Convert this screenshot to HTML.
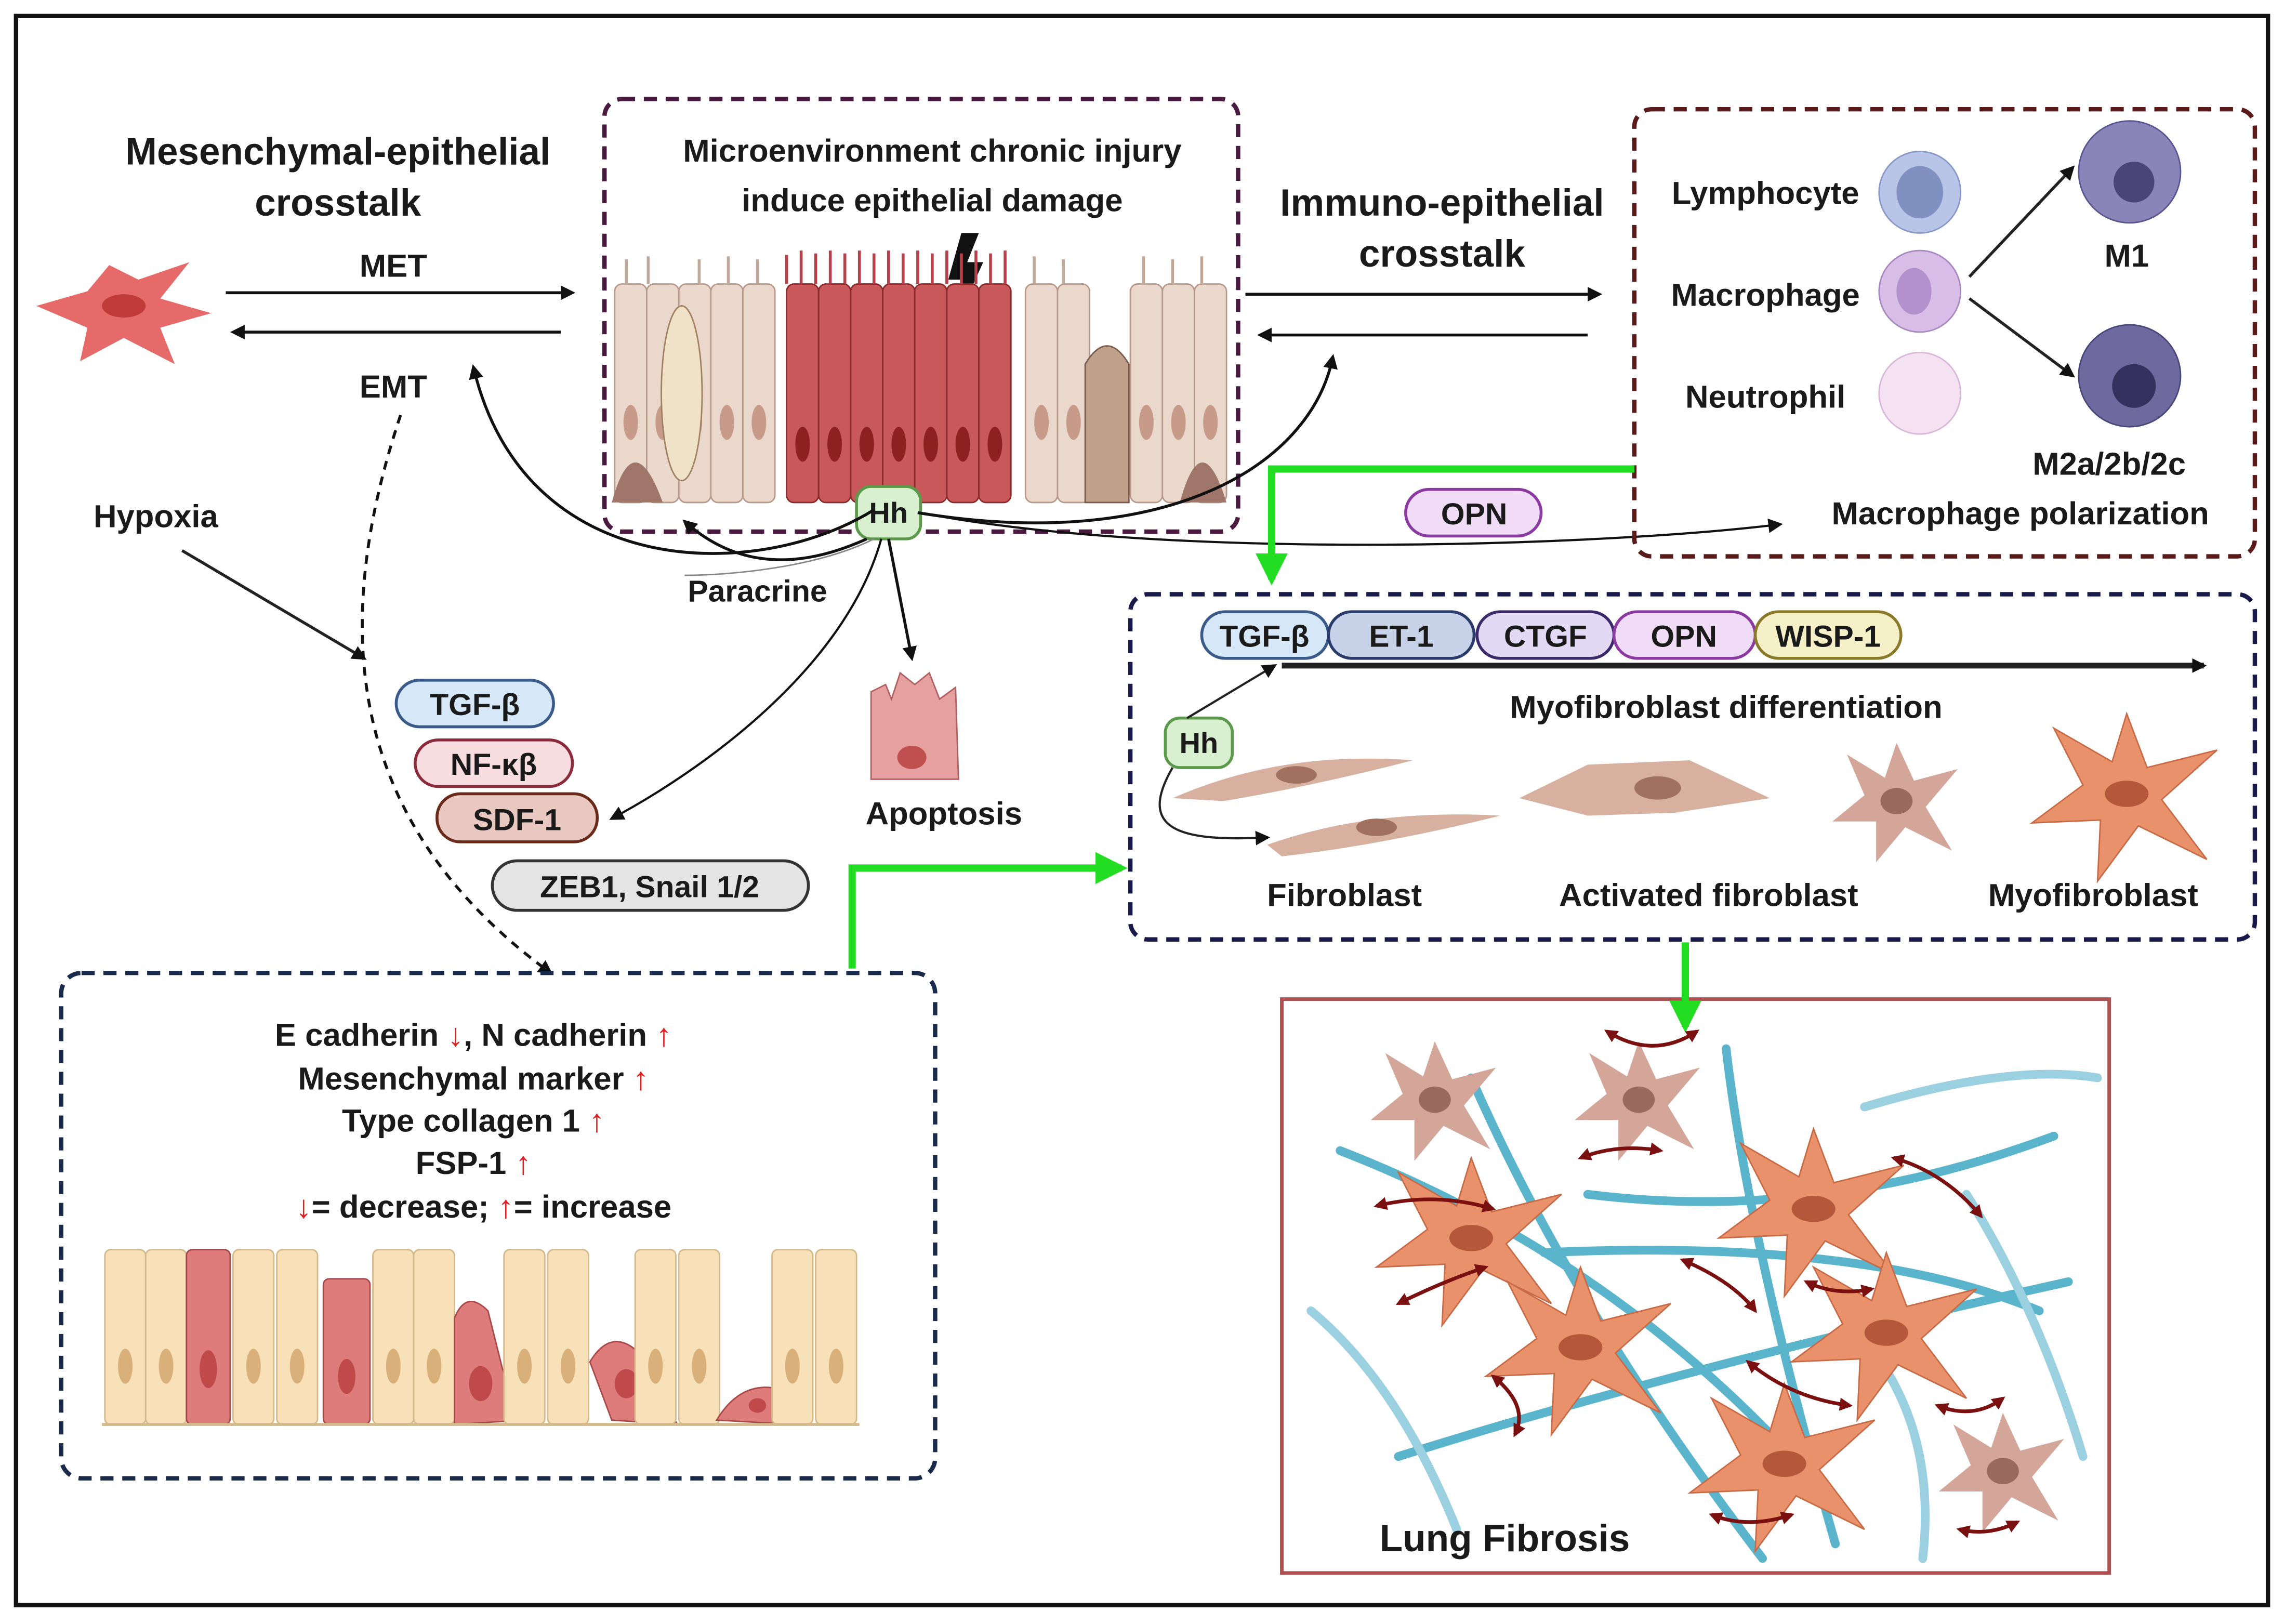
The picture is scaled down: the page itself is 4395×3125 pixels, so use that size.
<!DOCTYPE html>
<html><head><meta charset="utf-8"><style>
html,body{margin:0;padding:0;background:#fff}
svg{display:block}
text{font-family:"Liberation Sans",sans-serif;font-weight:bold;fill:#1a1a1a}
</style></head><body>
<svg width="4395" height="3125" viewBox="0 0 1568 1115" preserveAspectRatio="none" xmlns="http://www.w3.org/2000/svg">
<defs>
<marker id="ab" markerWidth="10" markerHeight="10" refX="8" refY="5" orient="auto" markerUnits="userSpaceOnUse"><path d="M0,0 L10,5 L0,10 z" fill="#111"/></marker>
<marker id="ag" markerWidth="22" markerHeight="22" refX="18" refY="11" orient="auto" markerUnits="userSpaceOnUse"><path d="M0,0 L22,11 L0,22 z" fill="#22dd22"/></marker>
<marker id="ar" markerWidth="9" markerHeight="9" refX="7" refY="4.5" orient="auto-start-reverse" markerUnits="userSpaceOnUse"><path d="M0,0 L9,4.5 L0,9 z" fill="#7a1010"/></marker>
<g id="star"><path d="M0,-55 L14,-18 L62,-30 L24,4 L55,45 L8,22 L-20,60 L-18,18 L-65,20 L-30,-6 L-50,-45 L-10,-22 z" fill="#e8916a" stroke="#c86a45" stroke-width="1"/><ellipse cx="0" cy="0" rx="15" ry="9" fill="#b4573a"/></g>
<g id="bstar"><path d="M0,-40 L12,-14 L42,-22 L20,4 L38,34 L6,18 L-14,42 L-14,14 L-44,14 L-22,-4 L-34,-32 L-8,-16 z" fill="#d4a69a"/><ellipse cx="0" cy="0" rx="11" ry="9" fill="#9a6a5e"/></g>
<g id="col"><rect x="0" y="0" width="28" height="120" rx="4" fill="#f8e0b8" stroke="#d4b98a"/><ellipse cx="14" cy="80" rx="5" ry="12" fill="#d9b07a"/></g>
<g id="epi"><rect x="0" y="0" width="22" height="150" rx="5" fill="#ead8cc" stroke="#b8998a"/><ellipse cx="11" cy="95" rx="5" ry="12" fill="#c79a8a"/></g>
<g id="epr"><rect x="0" y="0" width="22" height="150" rx="5" fill="#c9585a" stroke="#8a2a2a"/><ellipse cx="11" cy="110" rx="5" ry="12" fill="#8e2020"/></g>
</defs>
<rect x="11" y="11" width="1546" height="1091" fill="#fff" stroke="#111" stroke-width="3"/>

<text x="232" y="113" font-size="26" text-anchor="middle">Mesenchymal-epithelial</text>
<text x="232" y="148" font-size="26" text-anchor="middle">crosstalk</text>
<path d="M25,210 L60,200 L75,182 L95,192 L130,180 L110,205 L145,215 L110,225 L120,250 L85,232 L55,248 L60,225 z" fill="#e66a6a"/>
<ellipse cx="85" cy="210" rx="15" ry="8" fill="#c03a3a"/>
<line x1="155" y1="201" x2="393" y2="201" stroke="#111" stroke-width="2" marker-end="url(#ab)"/>
<line x1="385" y1="228" x2="160" y2="228" stroke="#111" stroke-width="2" marker-end="url(#ab)"/>
<text x="270" y="190" font-size="22" text-anchor="middle">MET</text>
<text x="270" y="273" font-size="22" text-anchor="middle">EMT</text>
<text x="107" y="362" font-size="22" text-anchor="middle">Hypoxia</text>
<line x1="125" y1="378" x2="250" y2="452" stroke="#222" stroke-width="2" marker-end="url(#ab)"/>
<path d="M275,285 C230,420 230,560 378,668" fill="none" stroke="#111" stroke-width="2" stroke-dasharray="6,5" marker-end="url(#ab)"/>

<rect x="415" y="68" width="435" height="297" rx="12" fill="none" stroke="#4a1a40" stroke-width="3" stroke-dasharray="9,6"/>
<text x="640" y="111" font-size="22" text-anchor="middle">Microenvironment chronic injury</text>
<text x="640" y="145" font-size="22" text-anchor="middle">induce epithelial damage</text>
<path d="M660,160 L672,160 L664,180 L675,180 L656,222 L661,192 L651,192 z" fill="#111"/>
<g>
<use href="#epi" x="422" y="195"/><use href="#epi" x="444" y="195"/><use href="#epi" x="466" y="195"/><use href="#epi" x="488" y="195"/><use href="#epi" x="510" y="195"/>
<use href="#epr" x="540" y="195"/><use href="#epr" x="562" y="195"/><use href="#epr" x="584" y="195"/><use href="#epr" x="606" y="195"/><use href="#epr" x="628" y="195"/><use href="#epr" x="650" y="195"/><use href="#epr" x="672" y="195"/>
<use href="#epi" x="704" y="195"/><use href="#epi" x="726" y="195"/><use href="#epi" x="776" y="195"/><use href="#epi" x="798" y="195"/><use href="#epi" x="820" y="195"/>
<ellipse cx="468" cy="270" rx="14" ry="60" fill="#efe2c8" stroke="#a08060"/>
<path d="M745,345 L745,250 Q760,225 775,250 L775,345 z" fill="#bfa08a" stroke="#7a5a4a"/>
<path d="M420,345 Q435,290 455,345 z M810,345 Q825,290 842,345 z" fill="#a0766a"/>
<path d="M540,195 L540,175 M550,195 L550,172 M560,195 L560,174 M570,195 L570,172 M580,195 L580,174 M590,195 L590,172 M600,195 L600,174 M610,195 L610,172 M620,195 L620,174 M630,195 L630,172 M640,195 L640,174 M650,195 L650,172 M660,195 L660,174 M670,195 L670,172 M680,195 L680,174 M690,195 L690,172" stroke="#b8404a" stroke-width="2"/>
<path d="M430,195 L430,178 M445,195 L445,176 M480,195 L480,178 M500,195 L500,176 M520,195 L520,178 M710,195 L710,176 M730,195 L730,178 M785,195 L785,176 M805,195 L805,178 M825,195 L825,176" stroke="#c0a898" stroke-width="2"/>
</g>
<rect x="588" y="334" width="44" height="36" rx="10" fill="#d8f0d0" stroke="#5a9a4a" stroke-width="2"/>
<text x="610" y="359" font-size="20" text-anchor="middle">Hh</text>
<path d="M600,350 C520,400 360,400 325,252" fill="none" stroke="#111" stroke-width="2" marker-end="url(#ab)"/>
<path d="M595,370 C540,395 500,385 470,358" fill="none" stroke="#111" stroke-width="2" marker-end="url(#ab)"/>
<path d="M630,352 C800,380 900,320 915,245" fill="none" stroke="#111" stroke-width="2" marker-end="url(#ab)"/>
<path d="M632,352 C800,385 1100,375 1222,360" fill="none" stroke="#111" stroke-width="1.5" marker-end="url(#ab)"/>
<line x1="610" y1="370" x2="626" y2="452" stroke="#111" stroke-width="2" marker-end="url(#ab)"/>
<path d="M605,370 C580,460 480,530 420,562" fill="none" stroke="#111" stroke-width="1.5" marker-end="url(#ab)"/>
<path d="M600,370 C560,390 500,395 470,395" fill="none" stroke="#888" stroke-width="1"/>
<text x="520" y="413" font-size="21" text-anchor="middle">Paracrine</text>
<path d="M598,535 L598,475 L608,470 L612,480 L618,462 L628,470 L638,462 L645,480 L656,472 L658,535 z" fill="#e6a0a0" stroke="#b06060"/>
<ellipse cx="626" cy="520" rx="10" ry="8" fill="#c05050"/>
<text x="648" y="566" font-size="22" text-anchor="middle">Apoptosis</text>

<rect x="272" y="467" width="108" height="32" rx="16" fill="#d6e8f8" stroke="#3a5a8a" stroke-width="2"/><text x="326" y="491" font-size="21" text-anchor="middle">TGF-β</text>
<rect x="285" y="508" width="108" height="32" rx="16" fill="#f8dde0" stroke="#8a2a3a" stroke-width="2"/><text x="339" y="532" font-size="21" text-anchor="middle">NF-κβ</text>
<rect x="300" y="545" width="110" height="33" rx="16" fill="#e8c8c0" stroke="#6a2a1a" stroke-width="2"/><text x="355" y="570" font-size="21" text-anchor="middle">SDF-1</text>
<rect x="338" y="591" width="217" height="34" rx="17" fill="#e4e4e4" stroke="#333" stroke-width="2"/><text x="446" y="616" font-size="21" text-anchor="middle">ZEB1, Snail 1/2</text>

<text x="990" y="148" font-size="26" text-anchor="middle">Immuno-epithelial</text>
<text x="990" y="183" font-size="26" text-anchor="middle">crosstalk</text>
<line x1="855" y1="202" x2="1098" y2="202" stroke="#111" stroke-width="2" marker-end="url(#ab)"/>
<line x1="1090" y1="230" x2="865" y2="230" stroke="#111" stroke-width="2" marker-end="url(#ab)"/>
<rect x="1122" y="75" width="426" height="307" rx="12" fill="none" stroke="#5a1a1a" stroke-width="3" stroke-dasharray="9,6"/>
<text x="1212" y="140" font-size="22" text-anchor="middle">Lymphocyte</text>
<text x="1212" y="210" font-size="22" text-anchor="middle">Macrophage</text>
<text x="1212" y="280" font-size="22" text-anchor="middle">Neutrophil</text>
<circle cx="1318" cy="132" r="28" fill="#b8c4e8" stroke="#8a98c8"/><ellipse cx="1318" cy="132" rx="16" ry="18" fill="#8090c0"/>
<circle cx="1318" cy="200" r="28" fill="#d8bee6" stroke="#a888c0"/><ellipse cx="1314" cy="200" rx="12" ry="16" fill="#b490cc"/>
<circle cx="1318" cy="270" r="28" fill="#f4e2f2" stroke="#d8b8d8"/>
<line x1="1352" y1="190" x2="1423" y2="115" stroke="#222" stroke-width="2" marker-end="url(#ab)"/>
<line x1="1352" y1="205" x2="1423" y2="258" stroke="#222" stroke-width="2" marker-end="url(#ab)"/>
<circle cx="1462" cy="118" r="35" fill="#8a84b8" stroke="#5a5490"/><circle cx="1465" cy="125" r="14" fill="#4a4478"/>
<circle cx="1462" cy="258" r="35" fill="#6e6aa0" stroke="#4a4678"/><circle cx="1465" cy="265" r="15" fill="#35305e"/>
<text x="1460" y="183" font-size="22" text-anchor="middle">M1</text>
<text x="1448" y="326" font-size="22" text-anchor="middle">M2a/2b/2c</text>
<text x="1387" y="360" font-size="22" text-anchor="middle">Macrophage polarization</text>
<rect x="965" y="336" width="93" height="32" rx="16" fill="#f0dcf6" stroke="#8a3aa0" stroke-width="2"/><text x="1012" y="360" font-size="21" text-anchor="middle">OPN</text>

<polyline points="1122,322 873,322 873,398" fill="none" stroke="#22dd22" stroke-width="5" marker-end="url(#ag)"/>
<polyline points="585,665 585,596 770,596" fill="none" stroke="#22dd22" stroke-width="5" marker-end="url(#ag)"/>

<rect x="776" y="408" width="772" height="237" rx="12" fill="none" stroke="#1a1a4a" stroke-width="3" stroke-dasharray="9,6"/>
<line x1="880" y1="457" x2="1513" y2="457" stroke="#222" stroke-width="4" marker-end="url(#ab)"/>
<rect x="825" y="420" width="87" height="32" rx="16" fill="#d6e8f8" stroke="#3a5a8a" stroke-width="2"/><text x="868" y="444" font-size="21" text-anchor="middle">TGF-β</text>
<rect x="912" y="420" width="100" height="32" rx="16" fill="#c8d2e8" stroke="#2a3a6a" stroke-width="2"/><text x="962" y="444" font-size="21" text-anchor="middle">ET-1</text>
<rect x="1014" y="420" width="94" height="32" rx="16" fill="#e2daf4" stroke="#3a2a6a" stroke-width="2"/><text x="1061" y="444" font-size="21" text-anchor="middle">CTGF</text>
<rect x="1108" y="420" width="97" height="32" rx="16" fill="#f0dcf6" stroke="#8a3aa0" stroke-width="2"/><text x="1156" y="444" font-size="21" text-anchor="middle">OPN</text>
<rect x="1205" y="420" width="100" height="32" rx="16" fill="#f6f0c8" stroke="#8a7a2a" stroke-width="2"/><text x="1255" y="444" font-size="21" text-anchor="middle">WISP-1</text>
<text x="1185" y="493" font-size="22" text-anchor="middle">Myofibroblast differentiation</text>
<rect x="800" y="493" width="46" height="34" rx="10" fill="#d8f0d0" stroke="#5a9a4a" stroke-width="2"/><text x="823" y="517" font-size="20" text-anchor="middle">Hh</text>
<path d="M815,493 L875,457" stroke="#222" stroke-width="1.5" fill="none" marker-end="url(#ab)"/>
<path d="M805,527 C780,570 810,578 870,575" stroke="#222" stroke-width="1.5" fill="none" marker-end="url(#ab)"/>
<path d="M805,548 Q880,515 970,522 Q900,540 840,550 z" fill="#d8b0a0"/><ellipse cx="890" cy="532" rx="14" ry="6" fill="#a07060"/>
<path d="M870,580 Q940,555 1030,560 Q950,580 880,588 z" fill="#d8b0a0"/><ellipse cx="945" cy="568" rx="14" ry="6" fill="#a07060"/>
<path d="M1043,548 L1090,525 L1160,522 L1215,548 L1150,558 L1090,560 z" fill="#d8b0a0"/><ellipse cx="1138" cy="541" rx="16" ry="8" fill="#a07060"/>
<use href="#bstar" x="1302" y="550"/>
<use href="#star" x="1460" y="545"/>
<text x="923" y="622" font-size="22" text-anchor="middle">Fibroblast</text>
<text x="1173" y="622" font-size="22" text-anchor="middle">Activated fibroblast</text>
<text x="1437" y="622" font-size="22" text-anchor="middle">Myofibroblast</text>

<rect x="880" y="686" width="568" height="394" fill="#fff" stroke="#b05050" stroke-width="2.5"/>
<line x1="1157" y1="647" x2="1157" y2="705" stroke="#22dd22" stroke-width="5" marker-end="url(#ag)"/>
<g fill="none" stroke="#5ab4cc" stroke-width="6" stroke-linecap="round">
<path d="M920,790 Q1100,860 1230,1000"/><path d="M1010,740 Q1080,900 1210,1070"/><path d="M1185,720 Q1200,850 1260,1060"/>
<path d="M960,1000 Q1150,940 1420,880"/><path d="M1090,820 Q1250,840 1410,780"/><path d="M1060,860 Q1280,850 1400,900"/>
<path d="M1280,920 Q1330,980 1320,1070" stroke="#9ad0e0"/><path d="M1280,760 Q1380,730 1440,740" stroke="#9ad0e0"/>
<path d="M900,900 Q960,950 1000,1050" stroke="#9ad0e0"/><path d="M1350,820 Q1400,900 1430,1000" stroke="#9ad0e0"/>
</g>
<use href="#bstar" x="985" y="755"/><use href="#bstar" x="1125" y="755"/>
<use href="#star" x="1010" y="850"/><use href="#star" x="1245" y="830"/>
<use href="#star" x="1085" y="925"/><use href="#star" x="1295" y="915"/>
<use href="#star" x="1225" y="1005"/><use href="#bstar" x="1375" y="1010"/>
<g stroke="#7a1010" stroke-width="2.5" fill="none" marker-end="url(#ar)" marker-start="url(#ar)">
<path d="M1103,708 Q1135,728 1165,708"/><path d="M945,828 Q985,818 1025,830"/><path d="M1085,795 Q1110,785 1140,790"/>
<path d="M1300,795 Q1335,805 1360,835"/><path d="M1155,865 Q1190,880 1205,900"/><path d="M960,895 Q990,880 1020,870"/>
<path d="M1025,945 Q1050,965 1040,985"/><path d="M1330,965 Q1355,975 1375,960"/><path d="M1200,935 Q1230,960 1270,965"/>
<path d="M1175,1040 Q1200,1050 1230,1040"/><path d="M1345,1050 Q1365,1055 1385,1045"/><path d="M1240,880 Q1260,890 1285,885"/>
</g>
<text x="1033" y="1065" font-size="26" text-anchor="middle">Lung Fibrosis</text>

<rect x="42" y="668" width="600" height="347" rx="14" fill="none" stroke="#1a2a4a" stroke-width="3" stroke-dasharray="9,6"/>
<text x="325" y="718" font-size="22" text-anchor="middle">E cadherin <tspan fill="#e02020">↓</tspan>, N cadherin <tspan fill="#e02020">↑</tspan></text>
<text x="325" y="748" font-size="22" text-anchor="middle">Mesenchymal marker <tspan fill="#e02020">↑</tspan></text>
<text x="325" y="777" font-size="22" text-anchor="middle">Type collagen 1 <tspan fill="#e02020">↑</tspan></text>
<text x="325" y="806" font-size="22" text-anchor="middle">FSP-1 <tspan fill="#e02020">↑</tspan></text>
<text x="332" y="836" font-size="22" text-anchor="middle"><tspan fill="#e02020">↓</tspan>= decrease;  <tspan fill="#e02020">↑</tspan>= increase</text>
<g>
<use href="#col" x="72" y="858"/><use href="#col" x="100" y="858"/>
<rect x="128" y="858" width="30" height="120" rx="4" fill="#de7c7c" stroke="#a84848"/><ellipse cx="143" cy="940" rx="6" ry="13" fill="#c04a4a"/>
<use href="#col" x="160" y="858"/><use href="#col" x="190" y="858"/>
<rect x="222" y="878" width="32" height="100" rx="4" fill="#de7c7c" stroke="#a84848"/><ellipse cx="238" cy="945" rx="6" ry="12" fill="#c04a4a"/>
<use href="#col" x="256" y="858"/><use href="#col" x="284" y="858"/>
<path d="M312,978 L312,905 Q320,885 335,900 L345,940 L360,975 z" fill="#de7c7c" stroke="#a84848"/><ellipse cx="330" cy="950" rx="8" ry="12" fill="#c04a4a"/>
<use href="#col" x="346" y="858"/><use href="#col" x="376" y="858"/>
<path d="M405,935 Q420,910 440,930 L465,978 L420,975 z" fill="#de7c7c" stroke="#a84848"/><ellipse cx="430" cy="950" rx="8" ry="10" fill="#c04a4a"/>
<use href="#col" x="436" y="858"/><use href="#col" x="466" y="858"/>
<path d="M492,975 Q510,945 540,955 L545,978 z" fill="#de7c7c" stroke="#a84848"/><ellipse cx="520" cy="965" rx="6" ry="5" fill="#c04a4a"/>
<use href="#col" x="530" y="858"/><use href="#col" x="560" y="858"/>
<line x1="70" y1="978" x2="590" y2="978" stroke="#d4b98a" stroke-width="2"/>
</g>
</svg>
</body></html>
